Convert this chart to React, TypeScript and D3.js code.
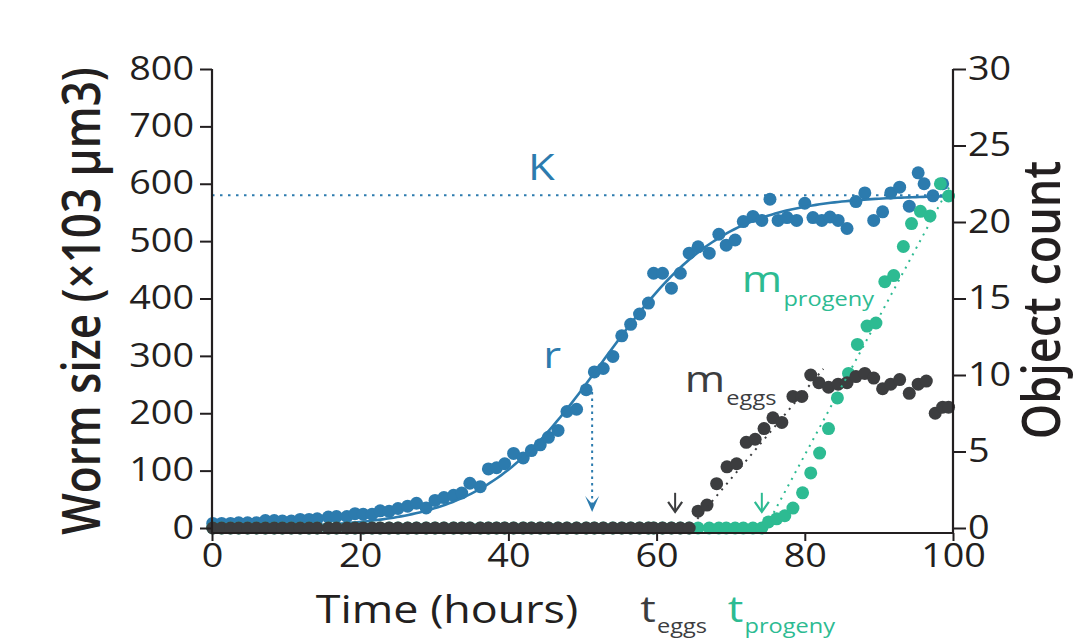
import { useEffect, useRef } from 'react'
import * as d3 from 'd3'

const FONT = '"Open Sans", "DejaVu Sans", sans-serif'
const BLUE = '#2c7bae'
const GREEN = '#2dbb92'
const DARK = '#3c3d3f'
const INK = '#231f20'
const SX = 1.18 // type in the original is set wide

const hourTicks = [0, 20, 40, 60, 80, 100]
const sizeTicks = [0, 100, 200, 300, 400, 500, 600, 700, 800]
const countTicks = [0, 5, 10, 15, 20, 25, 30]

// worm size (x10^3 um^3), blue
const sizeHours = [
  0.1, 1.3, 2.5, 3.6, 4.8, 6.0, 7.2, 8.4, 9.5, 10.7, 11.9, 13.1, 14.2, 15.7, 16.8, 18.2, 19.3, 20.4, 21.6, 22.7,
  23.9, 25.1, 26.4, 27.6, 28.9, 30.1, 31.3, 32.6, 33.7, 34.8, 36.2, 37.3, 38.4, 39.5, 40.7, 42.0, 43.1, 44.3, 45.4, 46.7,
  47.9, 49.2, 50.5, 51.6, 52.8, 54.1, 55.3, 56.5, 57.7, 58.9, 59.6, 60.8, 62.0, 63.2, 64.4, 65.6, 67.1, 68.4, 69.4, 70.6,
  71.7, 73.0, 74.2, 75.3, 76.4, 77.6, 78.9, 80.0, 81.1, 82.3, 83.4, 84.5, 85.7, 86.9, 88.1, 89.3, 90.5, 91.6, 92.8, 94.1,
  95.3, 96.1, 97.3, 98.6,
]
const wormSize = [
  8, 8, 8, 9, 9, 9, 13, 13, 12, 12, 15, 15, 16, 19, 20, 20, 25, 24, 24, 30,
  29, 34, 38, 43, 35, 48, 53, 57, 61, 78, 72, 103, 105, 112, 130, 122, 135, 145, 158, 170,
  203, 207, 241, 272, 278, 299, 335, 355, 373, 392, 444, 444, 418, 444, 479, 490, 479, 512, 493, 502,
  534, 543, 536, 573, 536, 541, 536, 566, 541, 536, 542, 536, 522, 569, 584, 536, 551, 584, 594, 561,
  619, 600, 579, 600,
]

// eggs (object count), dark grey
const eggHours = [
  0.1, 1.3, 2.5, 3.6, 4.8, 6.0, 7.2, 8.4, 9.5, 10.7, 11.9, 13.1, 14.2, 15.7, 16.8, 18.2, 19.3, 20.4, 21.6, 22.7,
  23.9, 25.1, 26.4, 27.6, 28.9, 30.1, 31.3, 32.6, 33.7, 34.8, 36.2, 37.3, 38.4, 39.5, 40.7, 42.0, 43.1, 44.3, 45.4, 46.7,
  47.9, 49.2, 50.5, 51.6, 52.8, 54.1, 55.3, 56.5, 57.7, 58.9, 59.6, 60.8, 62.0, 63.2, 64.4,
  65.6, 66.8, 68.1, 69.5, 70.8, 72.1, 73.3, 74.5, 75.7, 76.9, 78.4, 79.6, 80.8, 81.9, 83.2, 84.5, 85.7, 86.9, 88.1, 89.3,
  90.5, 91.6, 92.8, 94.1, 95.3, 96.4, 97.6, 98.6, 99.4,
]
const eggCounts = [
  0, 0, 0, 0, 0, 0, 0, 0, 0, 0, 0, 0, 0, 0, 0, 0, 0, 0, 0, 0,
  0, 0, 0, 0, 0, 0, 0, 0, 0, 0, 0, 0, 0, 0, 0, 0, 0, 0, 0, 0,
  0, 0, 0, 0, 0, 0, 0, 0, 0, 0, 0, 0, 0, 0, 0,
  1.1, 1.5, 2.9, 4.0, 4.2, 5.6, 5.8, 6.5, 7.2, 6.9, 8.6, 8.6, 10.0, 9.5, 9.2, 9.4, 9.5, 9.9, 10.1, 9.8,
  9.1, 9.4, 9.7, 8.8, 9.4, 9.6, 7.5, 7.9, 7.9,
]

// progeny (object count), green
const progenyHours = [
  0.1, 1.3, 2.5, 3.6, 4.8, 6.0, 7.2, 8.4, 9.5, 10.7, 11.9, 13.1, 14.2, 15.7, 16.8, 18.2, 19.3, 20.4, 21.6, 22.7,
  23.9, 25.1, 26.4, 27.6, 28.9, 30.1, 31.3, 32.6, 33.7, 34.8, 36.2, 37.3, 38.4, 39.5, 40.7, 42.0, 43.1, 44.3, 45.4, 46.7,
  47.9, 49.2, 50.5, 51.6, 52.8, 54.1, 55.3, 56.5, 57.7, 58.9, 59.6, 60.8, 62.0, 63.2, 64.4, 65.6, 67.1, 68.4, 69.4, 70.6,
  71.7, 73.0, 74.2,
  75.1, 76.2, 77.3, 78.4, 79.7, 80.8, 82.0, 83.2, 84.4, 85.9, 87.1, 88.4, 89.6, 90.8, 92.0, 93.3, 94.4, 95.6, 96.9, 98.3,
  99.4,
]
const progenyCounts = [
  0, 0, 0, 0, 0, 0, 0, 0, 0, 0, 0, 0, 0, 0, 0, 0, 0, 0, 0, 0,
  0, 0, 0, 0, 0, 0, 0, 0, 0, 0, 0, 0, 0, 0, 0, 0, 0, 0, 0, 0,
  0, 0, 0, 0, 0, 0, 0, 0, 0, 0, 0, 0, 0, 0, 0, 0, 0, 0, 0, 0,
  0, 0, 0,
  0.4, 0.6, 0.8, 1.3, 2.3, 3.6, 4.9, 6.5, 8.5, 10.1, 12.0, 13.2, 13.4, 16.1, 16.5, 18.4, 19.9, 20.7, 20.4, 22.5,
  21.7,
]

// logistic fit of worm size
const fitK = 580
const fitRate = 0.122
const fitMid = 52.7

// dotted rate lines [hour, count]
const eggFit = [[65.5, 0.6], [82.5, 10.4]]
const progenyFit = [[75.8, 1.0], [99.5, 22.3]]

// arrows
const rArrow = { hour: 51.3, from: 237, to: 28 }
const eggArrow = { hour: 62.5, from: 2.3, to: 1.05 }
const progenyArrow = { hour: 74.2, from: 2.3, to: 1.05 }

const App = () => {
  const ref = useRef<SVGSVGElement>(null)

  useEffect(() => {
    document.body.style.margin = '0'
    const width = 1074
    const height = 639
    const svg = d3.select(ref.current)
    svg.selectAll('*').remove()
    svg.attr('width', width).attr('height', height)

    const x = d3.scaleLinear().domain([0, 100]).range([212, 953])
    const ySize = d3.scaleLinear().domain([0, 800]).range([528, 69])
    const yCount = d3.scaleLinear().domain([0, 30]).range([528, 69])
    const axisY = 533
    const dotR = 6.5

    // K line
    svg.append('line')
      .attr('x1', x(0)).attr('x2', x(99))
      .attr('y1', ySize(fitK)).attr('y2', ySize(fitK))
      .attr('stroke', BLUE).attr('stroke-width', 2)
      .attr('stroke-dasharray', '2.5 5.5')

    // r arrow
    const rx = x(rArrow.hour)
    const rTip = ySize(rArrow.to)
    svg.append('line')
      .attr('x1', rx).attr('x2', rx)
      .attr('y1', ySize(rArrow.from)).attr('y2', rTip - 8)
      .attr('stroke', BLUE).attr('stroke-width', 2)
      .attr('stroke-dasharray', '2.5 4')
    svg.append('path')
      .attr('transform', `translate(${rx},${rTip})`)
      .attr('d', 'M-7,-16L0,0L7,-16L0,-8Z')
      .attr('fill', BLUE)

    // blue dots
    svg.append('g').selectAll('circle')
      .data(wormSize)
      .enter()
      .append('circle')
      .attr('cx', (d, i) => x(sizeHours[i]))
      .attr('cy', d => ySize(d))
      .attr('r', dotR)
      .attr('fill', BLUE)

    // logistic curve
    const logistic = (t: number) => fitK / (1 + Math.exp(-fitRate * (t - fitMid)))
    svg.append('path')
      .datum(d3.range(0, 100.01, 0.5))
      .attr('d', d3.line<number>().x(t => x(t)).y(t => ySize(logistic(t))))
      .attr('fill', 'none')
      .attr('stroke', BLUE)
      .attr('stroke-width', 2.6)

    // green dots
    svg.append('g').selectAll('circle')
      .data(progenyCounts)
      .enter()
      .append('circle')
      .attr('cx', (d, i) => x(progenyHours[i]))
      .attr('cy', d => yCount(d))
      .attr('r', dotR)
      .attr('fill', GREEN)

    // dark dots
    svg.append('g').selectAll('circle')
      .data(eggCounts)
      .enter()
      .append('circle')
      .attr('cx', (d, i) => x(eggHours[i]))
      .attr('cy', d => yCount(d))
      .attr('r', dotR)
      .attr('fill', DARK)

    const fitLine = d3.line<number[]>().x(d => x(d[0])).y(d => yCount(d[1]))
    svg.append('path').datum(eggFit).attr('d', fitLine)
      .attr('stroke', DARK).attr('stroke-width', 2).attr('stroke-dasharray', '2 5.5').attr('fill', 'none')
    svg.append('path').datum(progenyFit).attr('d', fitLine)
      .attr('stroke', GREEN).attr('stroke-width', 2).attr('stroke-dasharray', '2 5.5').attr('fill', 'none')

    // onset arrows
    const onset = (a: { hour: number; from: number; to: number }, color: string) => {
      const ax = x(a.hour)
      const tip = yCount(a.to)
      svg.append('line')
        .attr('x1', ax).attr('x2', ax)
        .attr('y1', yCount(a.from)).attr('y2', tip)
        .attr('stroke', color).attr('stroke-width', 2)
      svg.append('path')
        .attr('transform', `translate(${ax},${tip})`)
        .attr('d', 'M-7,-10L0,0L7,-10')
        .attr('fill', 'none').attr('stroke', color).attr('stroke-width', 2.2)
    }
    onset(eggArrow, DARK)
    onset(progenyArrow, GREEN)

    // axes
    const styleAxis = (g: d3.Selection<SVGGElement, unknown, null, undefined>, shift: number) => {
      g.select('.domain').remove()
      g.attr('font-family', FONT).attr('font-size', 32).attr('color', INK)
      g.selectAll('line').attr('stroke-width', 2)
      g.selectAll('text').attr('fill', INK)
        .attr('transform', `translate(${shift},0) scale(${SX},1) translate(${-shift},0)`)
    }

    const left = svg.append('g')
      .attr('transform', `translate(${x(0)},0)`)
      .call(d3.axisLeft(ySize).tickValues(sizeTicks).tickSize(12).tickPadding(6).tickSizeOuter(0))
    styleAxis(left, -18)

    const right = svg.append('g')
      .attr('transform', `translate(${x(100)},0)`)
      .call(d3.axisRight(yCount).tickValues(countTicks).tickSize(13).tickPadding(2).tickSizeOuter(0))
    styleAxis(right, 15)

    const bottom = svg.append('g')
      .attr('transform', `translate(0,${axisY})`)
      .call(d3.axisBottom(x).tickValues(hourTicks).tickSize(8).tickPadding(3).tickSizeOuter(0))
    styleAxis(bottom, 0)

    const axisLines = svg.append('g').attr('stroke', INK).attr('stroke-width', 2.2)
    axisLines.append('line').attr('x1', x(0)).attr('x2', x(0)).attr('y1', ySize(800)).attr('y2', axisY)
    axisLines.append('line').attr('x1', x(100)).attr('x2', x(100)).attr('y1', yCount(30)).attr('y2', axisY)
    axisLines.append('line').attr('x1', x(0) - 1).attr('x2', x(100) + 1).attr('y1', axisY).attr('y2', axisY)

    // axis titles
    svg.append('text')
      .attr('transform', `translate(100,301) scale(${SX},1) rotate(-90)`)
      .attr('text-anchor', 'middle')
      .attr('font-family', FONT).attr('font-size', 44).attr('font-weight', 600)
      .attr('fill', INK)
      .text('Worm size (×103 µm3)')
    svg.append('text')
      .attr('transform', `translate(1060,300) scale(${SX},1) rotate(-90)`)
      .attr('text-anchor', 'middle')
      .attr('font-family', FONT).attr('font-size', 45).attr('font-weight', 600)
      .attr('fill', INK)
      .text('Object count')
    svg.append('text')
      .attr('transform', `translate(447,623) scale(${SX},1)`)
      .attr('text-anchor', 'middle')
      .attr('font-family', FONT).attr('font-size', 38)
      .attr('fill', INK)
      .text('Time (hours)')

    // annotations
    const label = (px: number, py: number, main: string, sub: string, color: string, subDy: number) => {
      const t = svg.append('text')
        .attr('transform', `translate(${px},${py}) scale(${SX},1)`)
        .attr('font-family', FONT).attr('fill', color)
      t.append('tspan').attr('font-size', 37).text(main)
      if (sub) t.append('tspan').attr('font-size', 20).attr('dx', 1).attr('dy', subDy).text(sub)
    }
    label(x(42.65), ySize(606), 'K', '', BLUE, 0)
    label(x(44.7), ySize(279), 'r', '', BLUE, 0)
    label(x(63.8), yCount(8.9), 'm', 'eggs', DARK, 13)
    label(x(71.5), yCount(15.4), 'm', 'progeny', GREEN, 14)
    label(x(57.8), 622, 't', 'eggs', DARK, 11)
    label(x(69.6), 622, 't', 'progeny', GREEN, 11)
  }, [])

  return (
    <div>
      <svg ref={ref} style={{ display: 'block', position: 'absolute', left: 0, top: 0 }}></svg>
    </div>
  )
}

export default App
